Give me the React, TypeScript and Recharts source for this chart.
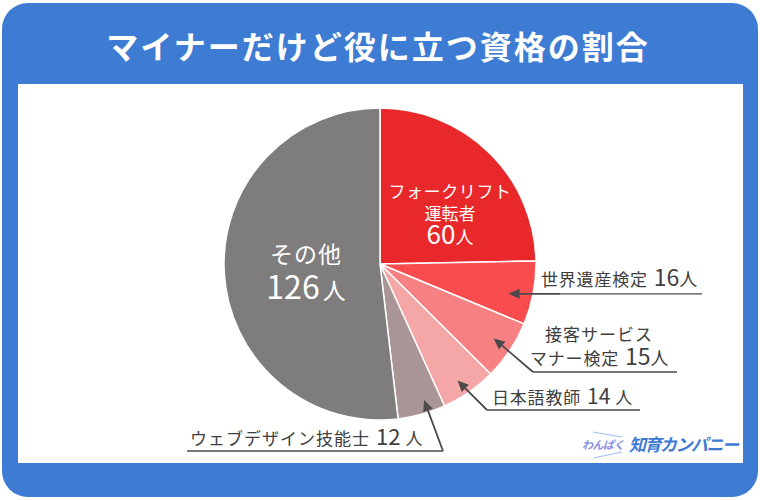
import { PieChart, Pie, Cell } from "recharts";

const title = "マイナーだけど役に立つ資格の割合";
const names = ["フォークリフト運転者", "世界遺産検定", "接客サービスマナー検定", "日本語教師", "ウェブデザイン技能士", "その他"];
const counts = [60, 16, 15, 14, 12, 126];
const unit = "人";
const colors = ["#e8282a", "#f84c4e", "#f78182", "#f5a6a7", "#a99596", "#7f7c7d"];

const BLUE = "#3e7bd3";
const TEXT = "#404040";
const FONT = "'Noto Sans CJK JP', 'Noto Sans', sans-serif";
const RAD = Math.PI / 180;

// label placement (annotation layout only, not data)
const ext: Record<number, { r: number; da: number; elbow?: [number, number]; end: number }> = {
  1: { r: 132, da: -2.3, end: 702 },
  2: { r: 136, da: 0.5, elbow: [533, 372], end: 677 },
  3: { r: 140, da: -1.2, elbow: [487, 410], end: 640 },
  4: { r: 143, da: 2.4, elbow: [443, 451], end: 187 },
};

const data = names.map((name, i) => ({ name, value: counts[i] }));

function polar(cx: number, cy: number, r: number, deg: number) {
  return { x: cx + r * Math.cos(-deg * RAD), y: cy + r * Math.sin(-deg * RAD) };
}

function Arrow({ from, to }: { from: { x: number; y: number }; to: { x: number; y: number } }) {
  const ang = Math.atan2(to.y - from.y, to.x - from.x);
  const len = 11;
  const w = 5;
  const bx = to.x - len * Math.cos(ang);
  const by = to.y - len * Math.sin(ang);
  const p1 = `${bx + w * Math.sin(ang)},${by - w * Math.cos(ang)}`;
  const p2 = `${bx - w * Math.sin(ang)},${by + w * Math.cos(ang)}`;
  return (
    <g>
      <line x1={from.x} y1={from.y} x2={bx} y2={by} stroke="#4a4a4a" strokeWidth={1.8} />
      <polygon points={`${to.x},${to.y} ${p1} ${p2}`} fill="#4a4a4a" />
    </g>
  );
}

function renderLabel(props: any) {
  const { cx, cy, midAngle, index } = props;
  const n = counts[index];

  if (index === 0) {
    return (
      <g fill="#fff" fontFamily={FONT} textAnchor="middle">
        <text x={450} y={198} fontSize={17} letterSpacing={0.6}>フォークリフト</text>
        <text x={450} y={220} fontSize={17}>運転者</text>
        <text x={450} y={244} fontSize={26}>{n}<tspan fontSize={18}>{unit}</tspan></text>
      </g>
    );
  }
  if (index === 5) {
    return (
      <g fill="#fff" fontFamily={FONT} textAnchor="middle">
        <text x={306} y={263} fontSize={23} letterSpacing={1}>その他</text>
        <text x={306} y={299} fontSize={32}>{n}<tspan fontSize={23} dx={3}>{unit}</tspan></text>
      </g>
    );
  }

  const cfg = ext[index];
  const tip = polar(cx, cy, cfg.r, midAngle + cfg.da);
  const elbow = cfg.elbow ? { x: cfg.elbow[0], y: cfg.elbow[1] } : { x: 560, y: tip.y };
  const lineY = elbow.y;

  let label;
  if (index === 1) {
    label = (
      <text x={541} y={lineY - 8} fill={TEXT} fontFamily={FONT}>
        <tspan fontSize={17} letterSpacing={0.8}>{names[1]}</tspan>
        <tspan fontSize={23} dx={6}>{n}</tspan>
        <tspan fontSize={18}>{unit}</tspan>
      </text>
    );
  } else if (index === 2) {
    label = (
      <g fill={TEXT} fontFamily={FONT}>
        <text x={545} y={341} fontSize={17} letterSpacing={1}>接客サービス</text>
        <text x={530} y={365}>
          <tspan fontSize={17} letterSpacing={0.8}>マナー検定</tspan>
          <tspan fontSize={23} dx={6}>{n}</tspan>
          <tspan fontSize={18}>{unit}</tspan>
        </text>
      </g>
    );
  } else if (index === 3) {
    label = (
      <text x={492} y={lineY - 6} fill={TEXT} fontFamily={FONT}>
        <tspan fontSize={17} letterSpacing={0.8}>{names[3]}</tspan>
        <tspan fontSize={21} dx={6}>{n}</tspan>
        <tspan fontSize={17} dx={5}>{unit}</tspan>
      </text>
    );
  } else {
    label = (
      <text x={190} y={lineY - 6} fill={TEXT} fontFamily={FONT}>
        <tspan fontSize={17} letterSpacing={1}>{names[4]}</tspan>
        <tspan fontSize={22} dx={6}>{n}</tspan>
        <tspan fontSize={17} dx={5}>{unit}</tspan>
      </text>
    );
  }

  return (
    <g>
      <line x1={elbow.x} y1={lineY} x2={cfg.end} y2={lineY} stroke="#4a4a4a" strokeWidth={1.3} />
      <Arrow from={elbow} to={tip} />
      {label}
    </g>
  );
}

export default function App() {
  return (
    <div style={{ position: "absolute", left: 0, top: 0, width: 760, height: 500, background: "#fff", fontFamily: FONT }}>
      <div style={{ position: "absolute", left: 2, top: 3, width: 756, height: 494, background: BLUE, borderRadius: 26 }} />
      <div
        style={{
          position: "absolute",
          left: 0,
          top: 20,
          width: 756,
          textAlign: "center",
          color: "#fff",
          fontSize: 32,
          fontWeight: 700,
          letterSpacing: 2,
          lineHeight: "50px",
        }}
      >
        {title}
      </div>
      <div style={{ position: "absolute", left: 18, top: 84, width: 725, height: 379, background: "#fff" }} />

      <div style={{ position: "absolute", left: 0, top: 0 }}>
        <PieChart width={760} height={500} margin={{ top: 0, right: 0, bottom: 0, left: 0 }}>
          <Pie
            data={data}
            dataKey="value"
            nameKey="name"
            cx={380}
            cy={264}
            outerRadius={156}
            startAngle={90}
            endAngle={-270}
            stroke="#fff"
            strokeWidth={1.5}
            label={renderLabel}
            labelLine={false}
            isAnimationActive={false}
          >
            {data.map((d, i) => (
              <Cell key={d.name} fill={colors[i]} />
            ))}
          </Pie>
        </PieChart>
      </div>

      <svg style={{ position: "absolute", left: 0, top: 0 }} width={760} height={500}>
        <line x1={593} y1={432} x2={622} y2={437} stroke="#9bbcf0" strokeWidth={1} />
        <line x1={593} y1={458} x2={622} y2={452} stroke="#9bbcf0" strokeWidth={1} />
        <text x={582} y={449} fontSize={11} fontWeight={700} fontStyle="italic" fill="#8c8fe6" fontFamily={FONT} letterSpacing={-0.5}>わんぱく</text>
        <text x={629} y={451} fontSize={17} fontWeight={700} fontStyle="italic" fill={BLUE} fontFamily={FONT} letterSpacing={-1.5}>知育カンパニー</text>
      </svg>
    </div>
  );
}
